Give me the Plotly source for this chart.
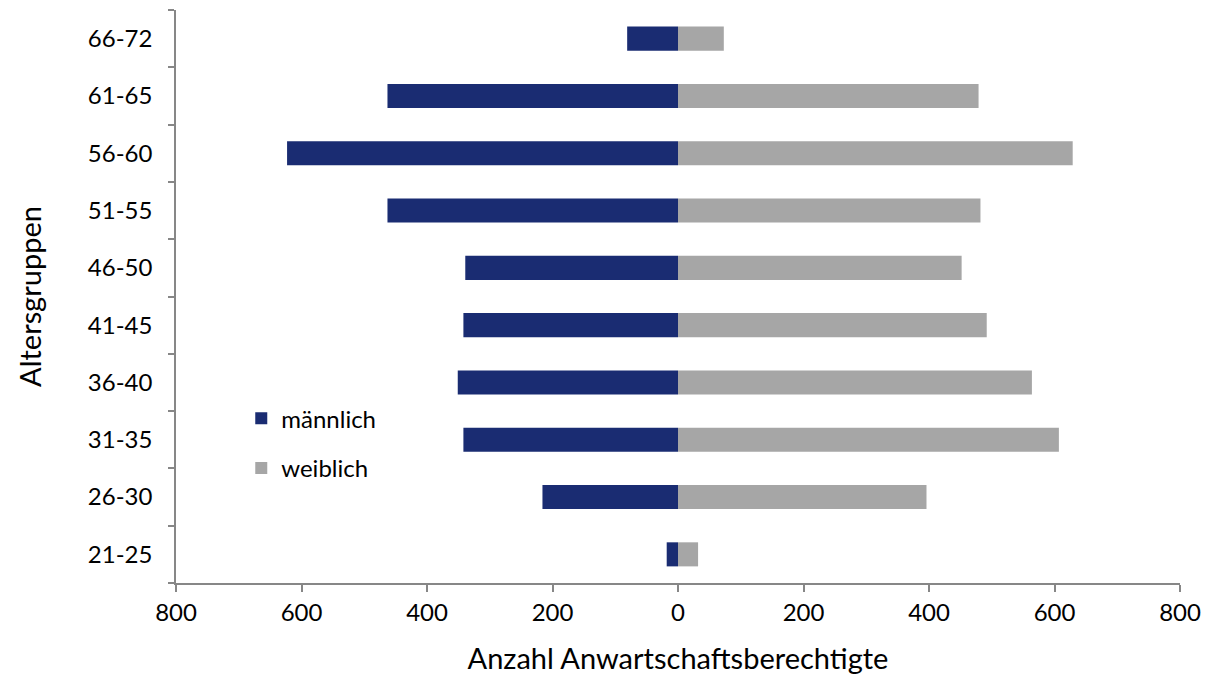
import plotly.graph_objects as go

age_groups = ["21-25", "26-30", "31-35", "36-40", "41-45", "46-50", "51-55", "56-60", "61-65", "66-72"]
male = [18, 216, 342, 351, 342, 339, 463, 623, 463, 81]
female = [32, 396, 607, 564, 492, 452, 482, 629, 479, 73]

tick_vals = [-800, -600, -400, -200, 0, 200, 400, 600, 800]
tick_text = ["800", "600", "400", "200", "0", "200", "400", "600", "800"]

FONT = "Lato"
AXC = "#878787"

fig = go.Figure()
fig.add_trace(go.Bar(
    y=age_groups, x=[-v for v in male], orientation="h", name="männlich",
    marker=dict(color="#1a2c72", line=dict(width=0)), legend="legend",
    customdata=male, hovertemplate="%{y}: %{customdata}<extra>männlich</extra>",
))
fig.add_trace(go.Bar(
    y=age_groups, x=female, orientation="h", name="weiblich",
    marker=dict(color="#a6a6a6", line=dict(width=0)), legend="legend2",
    hovertemplate="%{y}: %{x}<extra>weiblich</extra>",
))

fig.update_layout(
    width=1211, height=680,
    margin=dict(l=176, r=31, t=10, b=97),
    plot_bgcolor="white", paper_bgcolor="white",
    barmode="relative", bargap=0.58,
    font=dict(family=FONT, size=24, color="#000000"),
    showlegend=True,
    legend=dict(x=0.065, y=0.287, xanchor="left", yanchor="middle",
                font=dict(size=24, family=FONT), bgcolor="rgba(0,0,0,0)"),
    legend2=dict(x=0.065, y=0.2, xanchor="left", yanchor="middle",
                 font=dict(size=24, family=FONT), bgcolor="rgba(0,0,0,0)"),
    xaxis=dict(
        range=[-800, 800], tickvals=tick_vals, ticktext=tick_text,
        showgrid=False, zeroline=False,
        showline=True, linecolor=AXC, linewidth=1.5,
        ticks="outside", ticklen=7, tickcolor=AXC, tickwidth=1.5,
        tickfont=dict(size=24, family=FONT),
        title=dict(text="Anzahl Anwartschaftsberechtigte", font=dict(size=29, family=FONT), standoff=24),
    ),
    yaxis=dict(
        categoryorder="array", categoryarray=age_groups,
        showgrid=False, zeroline=False,
        showline=True, linecolor=AXC, linewidth=1.5,
        ticks="outside", ticklen=6, tickcolor=AXC, tickwidth=1.5,
        tickson="boundaries",
        tickfont=dict(size=24, family=FONT),
        ticklabelstandoff=17,
        title=dict(text="Altersgruppen", font=dict(size=29, family=FONT), standoff=38),
    ),
)

fig.write_html("out.html")
